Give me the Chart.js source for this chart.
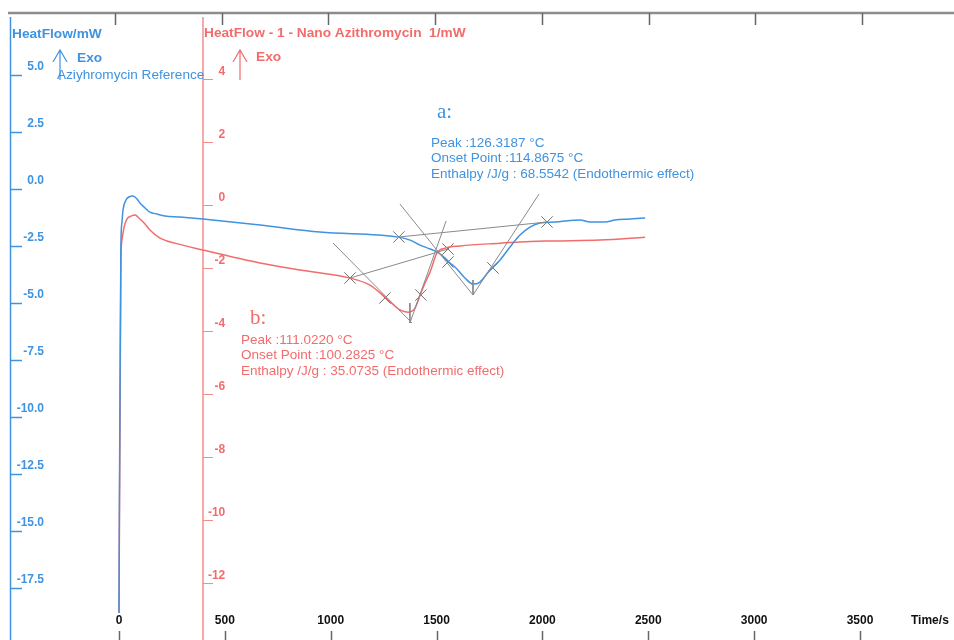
<!DOCTYPE html>
<html>
<head>
<meta charset="utf-8">
<script src="https://cdn.jsdelivr.net/npm/chart.js@4.4.0/dist/chart.umd.min.js"></script>
<style>
html, body { margin: 0; padding: 0; background: #fff; }
canvas { display: block; }
</style>
</head>
<body>
<canvas id="dscChart" width="954" height="640"></canvas>
<script>
// tick labels
const timeTicks = [0, 500, 1000, 1500, 2000, 2500, 3000, 3500];
const blueTicks = [5.0, 2.5, 0.0, -2.5, -5.0, -7.5, -10.0, -12.5, -15.0, -17.5];
const redTicks = [4, 2, 0, -2, -4, -6, -8, -10, -12];

// Aziyhromycin Reference (left axis, mW)
const refTime = [0, 2, 5, 9, 14, 19, 33, 47, 66, 85, 99, 123, 146, 180, 217, 288, 397, 666, 949,
  1318, 1375, 1422, 1469, 1502, 1540, 1563, 1587, 1634, 1672, 1705, 1752, 1800, 1847, 1894,
  1941, 1988, 2059, 2178, 2225, 2296, 2343, 2414, 2485];
const refHeat = [-18.6, -13.6, -8.4, -2.46, -1.45, -0.92, -0.48, -0.35, -0.31, -0.44, -0.61, -0.83,
  -1.01, -1.10, -1.18, -1.23, -1.32, -1.58, -1.89,
  -2.11, -2.24, -2.46, -2.63, -2.76, -3.03, -3.25, -3.42, -3.90, -4.17, -4.08, -3.55, -3.11, -2.54, -2.02,
  -1.67, -1.49, -1.45, -1.36, -1.45, -1.45, -1.36, -1.32, -1.27];

// Nano Azithromycin (right axis, mW)
const nanoTime = [0, 2, 5, 9, 14, 24, 38, 57, 76, 94, 123, 146, 194, 264, 397, 666, 855, 1091,
  1185, 1256, 1327, 1365, 1398, 1422, 1445, 1469, 1502, 1540, 1611, 1800, 1894, 2050, 2272, 2485];
const nanoHeat = [-12.95, -10.0, -6.83, -1.75, -1.11, -0.70, -0.44, -0.35, -0.32, -0.41, -0.60, -0.79,
  -1.05, -1.21, -1.43, -1.84, -2.06, -2.32,
  -2.54, -2.92, -3.33, -3.40, -3.27, -2.86, -2.48, -2.13, -1.52, -1.37, -1.30, -1.21, -1.17, -1.14, -1.11, -1.02];

// peak evaluation construction (time, heat flow)
const refBaseline = [[1322, -2.105], [2022, -1.447]];
const refTangents = [[1327, -0.658], [1672, -4.649], [1984, -0.219]];
const refPeakLine = [[1672, -3.99], [1672, -4.649]];
const refMarks = [[1322, -2.105], [1554, -3.20], [1766, -3.46], [2022, -1.447]];

const nanoBaseline = [[1091, -2.317], [1554, -1.397]];
const nanoTangentL = [[1011, -1.206], [1384, -3.746]];
const nanoTangentR = [[1374, -3.746], [1545, -0.508]];
const nanoPeakLine = [[1374, -3.111], [1374, -3.746]];
const nanoMarks = [[1091, -2.317], [1256, -2.952], [1426, -2.857], [1554, -1.397]];

const redAxisTime = 398;

const BLUE = '#3f93e0';
const RED = '#f26c6c';
const GREY = '#8a8a8a';

const xy = (xs, ys) => xs.map((x, i) => ({ x: x, y: ys[i] }));
const pairs = arr => arr.map(p => ({ x: p[0], y: p[1] }));

function guide(arr, axis) {
  return { data: pairs(arr), yAxisID: axis, borderColor: GREY, borderWidth: 1, pointRadius: 0, tension: 0 };
}
function marks(arr, axis) {
  return { data: pairs(arr), yAxisID: axis, showLine: false, pointStyle: 'crossRot', pointRadius: 8,
    borderColor: '#6f6f6f', borderWidth: 1, backgroundColor: 'transparent' };
}

const axisPainter = {
  id: 'axisPainter',
  beforeDatasetsDraw(chart) {
    const { ctx, scales } = chart;
    const x = scales.x, xTop = scales.xTop, yB = scales.yBlue, yR = scales.yRed;
    ctx.save();
    // top frame with ticks
    ctx.strokeStyle = '#8c8c8c';
    ctx.lineWidth = 2.5;
    ctx.beginPath(); ctx.moveTo(8, 13); ctx.lineTo(954, 13); ctx.stroke();
    ctx.strokeStyle = '#666';
    ctx.lineWidth = 1.5;
    timeTicks.forEach(t => {
      const px = Math.round(xTop.getPixelForValue(t)) + 0.5;
      ctx.beginPath(); ctx.moveTo(px, 13); ctx.lineTo(px, 25); ctx.stroke();
    });
    // bottom time ticks
    timeTicks.forEach(t => {
      const px = Math.round(x.getPixelForValue(t)) + 0.5;
      ctx.beginPath(); ctx.moveTo(px, 631); ctx.lineTo(px, 640); ctx.stroke();
    });
    // blue axis
    ctx.strokeStyle = BLUE;
    ctx.lineWidth = 1.5;
    ctx.beginPath(); ctx.moveTo(10.5, 17); ctx.lineTo(10.5, 640); ctx.stroke();
    blueTicks.forEach(v => {
      const py = Math.round(yB.getPixelForValue(v)) + 0.5;
      ctx.beginPath(); ctx.moveTo(10, py); ctx.lineTo(22, py); ctx.stroke();
    });
    // red axis
    const rx = Math.round(x.getPixelForValue(redAxisTime));
    ctx.strokeStyle = '#f48c8c';
    ctx.lineWidth = 1.5;
    ctx.beginPath(); ctx.moveTo(rx, 17); ctx.lineTo(rx, 640); ctx.stroke();
    ctx.lineWidth = 1;
    redTicks.forEach(v => {
      const py = Math.round(yR.getPixelForValue(v)) + 0.5;
      ctx.beginPath(); ctx.moveTo(rx, py); ctx.lineTo(rx + 10, py); ctx.stroke();
    });
    ctx.restore();
  },
  afterDraw(chart) {
    const { ctx, scales } = chart;
    const x = scales.x, yB = scales.yBlue, yR = scales.yRed;
    const rx = x.getPixelForValue(redAxisTime);
    ctx.save();
    ctx.textBaseline = 'middle';
    // tick labels
    ctx.font = 'bold 12px "Liberation Sans", Arial, sans-serif';
    ctx.fillStyle = BLUE;
    ctx.textAlign = 'right';
    blueTicks.forEach(v => ctx.fillText(v.toFixed(1), 44, yB.getPixelForValue(v) - 8));
    ctx.fillStyle = RED;
    redTicks.forEach(v => ctx.fillText(String(v), rx + 22, yR.getPixelForValue(v) - 7));
    ctx.fillStyle = '#111';
    ctx.textAlign = 'center';
    timeTicks.forEach(t => ctx.fillText(String(t), x.getPixelForValue(t), 621));
    ctx.textAlign = 'left';
    ctx.fillText('Time/s', 911, 621);

    // axis titles
    ctx.font = 'bold 13.7px "Liberation Sans", Arial, sans-serif';
    ctx.fillStyle = BLUE;
    ctx.fillText('HeatFlow/mW', 12, 34);
    ctx.fillText('Exo', 77, 58);
    ctx.fillStyle = RED;
    ctx.fillText('HeatFlow - 1 - Nano Azithromycin  1/mW', 204, 33);
    ctx.fillText('Exo', 256, 57);

    // exo arrows
    ctx.lineWidth = 1.2;
    [[60, BLUE], [240, RED]].forEach(([ax, col]) => {
      ctx.strokeStyle = col;
      ctx.beginPath();
      ctx.moveTo(ax, 80); ctx.lineTo(ax, 50);
      ctx.moveTo(ax - 7, 62); ctx.lineTo(ax, 50); ctx.lineTo(ax + 7, 62);
      ctx.stroke();
    });

    ctx.font = '13.6px "Liberation Sans", Arial, sans-serif';
    ctx.fillStyle = BLUE;
    ctx.fillText('Aziyhromycin Reference', 57, 75);

    // peak results
    ctx.font = '21px "Liberation Serif", "DejaVu Serif", serif';
    ctx.fillText('a:', 437, 112);
    ctx.fillStyle = RED;
    ctx.fillText('b:', 250, 318);

    ctx.font = '13.5px "Liberation Sans", Arial, sans-serif';
    ctx.fillStyle = BLUE;
    ['Peak :126.3187 \u00B0C', 'Onset Point :114.8675 \u00B0C', 'Enthalpy /J/g : 68.5542 (Endothermic effect)']
      .forEach((s, i) => ctx.fillText(s, 431, 143 + i * 15.5));
    ctx.fillStyle = RED;
    ['Peak :111.0220 \u00B0C', 'Onset Point :100.2825 \u00B0C', 'Enthalpy /J/g : 35.0735 (Endothermic effect)']
      .forEach((s, i) => ctx.fillText(s, 241, 340 + i * 15.5));
    ctx.restore();
  }
};

const data = {
  datasets: [
    guide(refBaseline, 'yBlue'),
    guide(refTangents, 'yBlue'),
    guide(refPeakLine, 'yBlue'),
    guide(nanoBaseline, 'yRed'),
    guide(nanoTangentL, 'yRed'),
    guide(nanoTangentR, 'yRed'),
    guide(nanoPeakLine, 'yRed'),
    {
      label: 'Aziyhromycin Reference',
      data: xy(refTime, refHeat),
      yAxisID: 'yBlue',
      borderColor: BLUE,
      borderWidth: 1.5,
      pointRadius: 0,
      cubicInterpolationMode: 'monotone'
    },
    {
      label: 'Nano Azithromycin',
      data: xy(nanoTime, nanoHeat),
      yAxisID: 'yRed',
      borderColor: RED,
      borderWidth: 1.5,
      pointRadius: 0,
      cubicInterpolationMode: 'monotone'
    },
    marks(refMarks, 'yBlue'),
    marks(nanoMarks, 'yRed')
  ]
};

const config = {
  type: 'line',
  data: data,
  options: {
    responsive: false,
    animation: false,
    layout: { padding: 0, autoPadding: false },
    plugins: { legend: { display: false }, tooltip: { enabled: false } },
    scales: {
      x: { type: 'linear', min: -562.1, max: 3944.0, display: false },
      xTop: { type: 'linear', position: 'top', min: -538.8, max: 3931.1, display: false },
      yBlue: { type: 'linear', min: -19.78, max: 8.29, display: false },
      yRed: { type: 'linear', min: -13.81, max: 6.51, display: false }
    }
  },
  plugins: [axisPainter]
};

const ctx = document.getElementById('dscChart').getContext('2d');
new Chart(ctx, config);
</script>
</body>
</html>
